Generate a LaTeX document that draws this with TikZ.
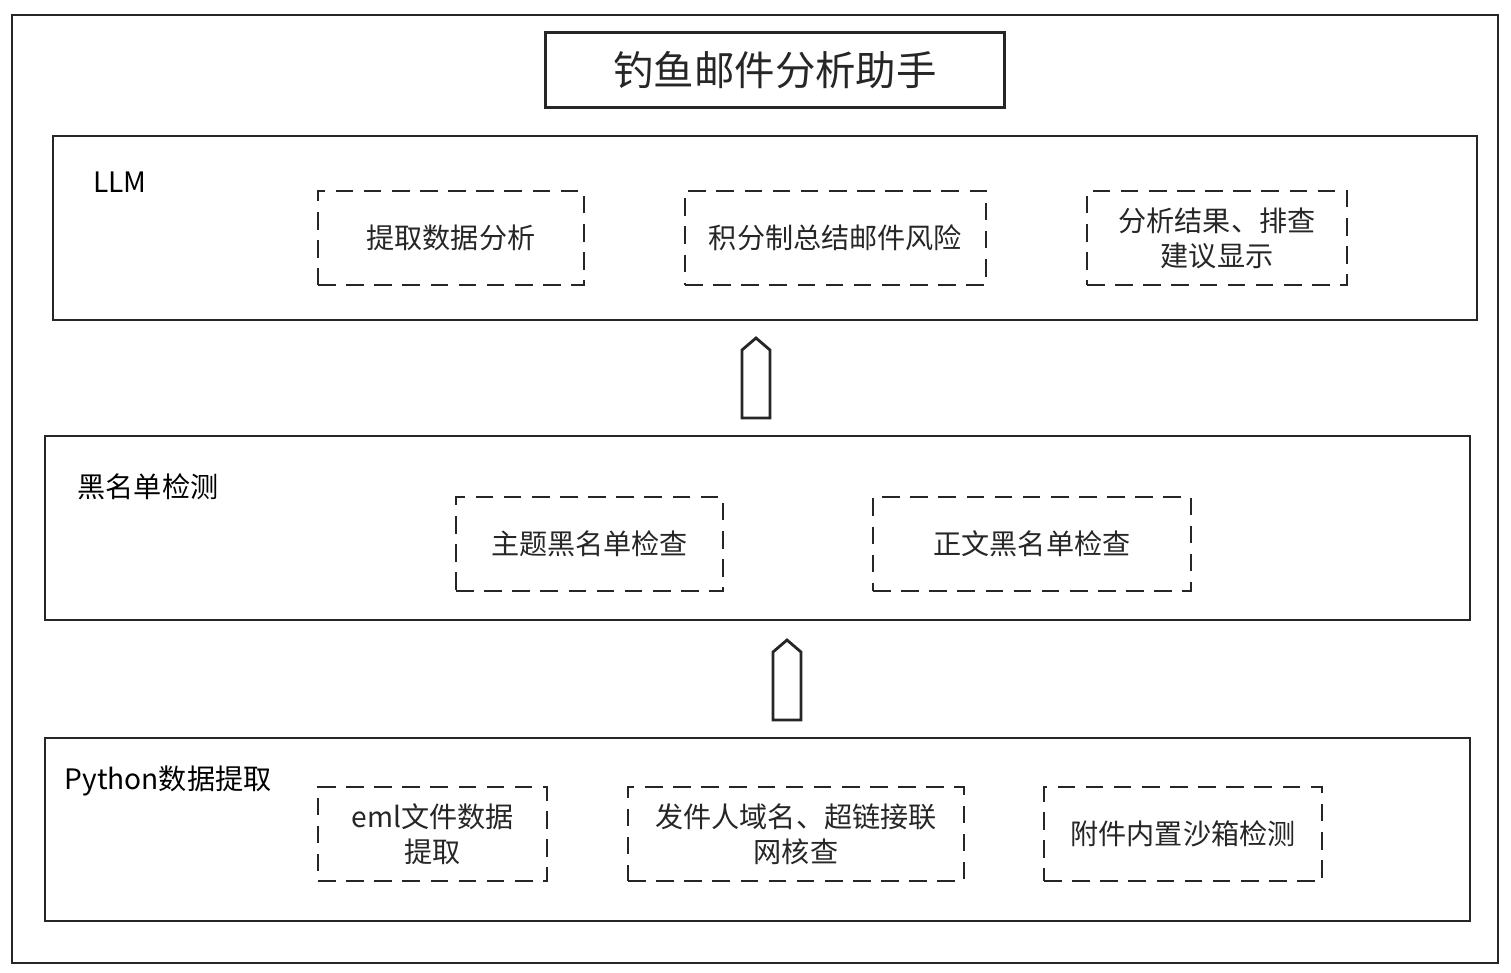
\documentclass[tikz,border=0pt]{standalone}
\usepackage{fontspec}
\setmainfont{Noto Sans CJK SC}
\usetikzlibrary{positioning}
\tikzset{
  layer/.style={draw,thick,black!85},
  task/.style={draw,thick,dashed,dash pattern=on 5pt off 3pt,black!85,align=center,inner sep=0pt},
  uparrow/.style={draw,thick,black!85,fill=white}
}
\begin{document}
\begin{tikzpicture}[x=0.01cm,y=-0.01cm,font=\fontsize{8}{10}\selectfont]
\useasboundingbox (0,0) rectangle (1511,972);
\draw[layer] (12,15) rectangle (1498,963);
\node[layer,minimum width=4.58cm,minimum height=0.75cm,font=\fontsize{11.5}{13}\selectfont] (title) at (775,70) {钓鱼邮件分析助手};

% LLM
\draw[layer] (53,136) rectangle (1477,320);
\node (llm) at (120,182) {LLM};
\foreach \xa/\xb/\texto [count=\i] in {318/584/提取数据分析,685/986/积分制总结邮件风险,1087/1347/{分析结果、排查\\建议显示}}
{
  \node[task,minimum width={(\xb-\xa)*0.01cm},minimum height=0.94cm] (llm\i) at ({(\xa+\xb)/2},238) {\texto};
}

% blacklist
\draw[layer] (45,436) rectangle (1470,620);
\node (black) at (148,487) {黑名单检测};
\foreach \xa/\xb/\texto [count=\i] in {456/723/主题黑名单检查,873/1191/正文黑名单检查}
{
  \node[task,minimum width={(\xb-\xa)*0.01cm},minimum height=0.94cm] (bl\i) at ({(\xa+\xb)/2},544) {\texto};
}

% python
\draw[layer] (45,738) rectangle (1470,921);
\node (py) at (168,781) {Python数据提取};
\foreach \xa/\xb/\texto [count=\i] in {318/547/{eml文件数据\\提取},628/964/{发件人域名、超链接联\\网核查},1044/1322/附件内置沙箱检测}
{
  \node[task,minimum width={(\xb-\xa)*0.01cm},minimum height=0.94cm] (py\i) at ({(\xa+\xb)/2},834) {\texto};
}

% arrows
\foreach \xc/\yb in {756/418,787/720}
{
  \draw[uparrow] (\xc-14,\yb) -- (\xc-14,\yb-68) -- (\xc,\yb-80) -- (\xc+14,\yb-68) -- (\xc+14,\yb) -- cycle;
}
\end{tikzpicture}
\end{document}
